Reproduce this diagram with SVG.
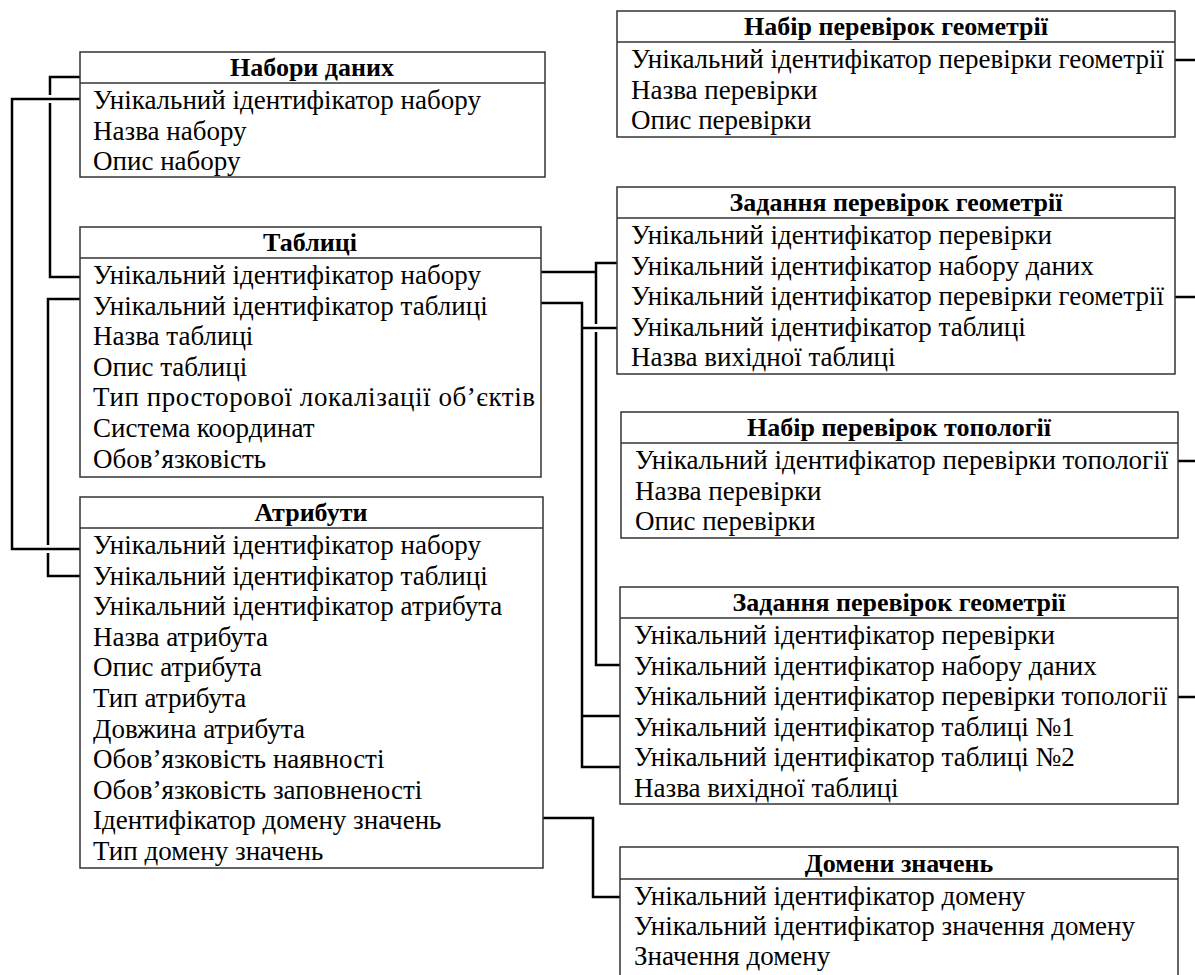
<svg xmlns="http://www.w3.org/2000/svg" width="1195" height="975" viewBox="0 0 1195 975">
<style>
.bg{fill:#fff}
.box{fill:#fff;stroke:#333;stroke-width:1.5}
.t{font-family:"Liberation Serif","Times New Roman",serif;font-size:27px;fill:#000}
.h{font-weight:bold;text-anchor:middle;font-size:26px}
.c{fill:none;stroke:#000;stroke-width:2.5}
</style>
<rect class="bg" x="0" y="0" width="1195" height="975"/>
<g id="connectors">
<path class="c" d="M80,77 H50 V95 M50,103 V277 H80"/>
<path class="c" d="M80,99 H12 V549 H80"/>
<path class="c" d="M80,299 H48 V545 M48,553 V576 H80"/>
<path class="c" d="M541,272 H596 M617,263 H596 V324 M596,332 V665 H620"/>
<path class="c" d="M541,303 H582 V767 H620 M582,328 H617 M582,716 H620"/>
<path class="c" d="M543,818 H593 V897 H620"/>
<path class="c" d="M1175,60 H1195 M1175,297 H1195 M1178,461 H1195 M1178,697 H1195"/>
</g>
<g id="nabory">
<rect class="box" x="80" y="52" width="465" height="125"/>
<line class="box" x1="80" y1="83" x2="545" y2="83"/>
<text class="t h" x="312" y="76">Набори даних</text>
<text class="t" x="93" y="109">Унікальний ідентифікатор набору</text>
<text class="t" x="93" y="140">Назва набору</text>
<text class="t" x="93" y="170">Опис набору</text>
</g>
<g id="tablytsi">
<rect class="box" x="80" y="227" width="461" height="250"/>
<line class="box" x1="80" y1="258" x2="541" y2="258"/>
<text class="t h" x="310" y="251">Таблиці</text>
<text class="t" x="93" y="284">Унікальний ідентифікатор набору</text>
<text class="t" x="93" y="315">Унікальний ідентифікатор таблиці</text>
<text class="t" x="93" y="345">Назва таблиці</text>
<text class="t" x="93" y="376">Опис таблиці</text>
<text class="t" x="93" y="406" textLength="442" lengthAdjust="spacing">Тип просторової локалізації об’єктів</text>
<text class="t" x="93" y="437">Система координат</text>
<text class="t" x="93" y="468">Обов’язковість</text>
</g>
<g id="atrybuty">
<rect class="box" x="80" y="497" width="463" height="371"/>
<line class="box" x1="80" y1="528" x2="543" y2="528"/>
<text class="t h" x="311" y="521">Атрибути</text>
<text class="t" x="93" y="554">Унікальний ідентифікатор набору</text>
<text class="t" x="93" y="585">Унікальний ідентифікатор таблиці</text>
<text class="t" x="93" y="615">Унікальний ідентифікатор атрибута</text>
<text class="t" x="93" y="646">Назва атрибута</text>
<text class="t" x="93" y="676">Опис атрибута</text>
<text class="t" x="93" y="707">Тип атрибута</text>
<text class="t" x="93" y="738">Довжина атрибута</text>
<text class="t" x="93" y="768">Обов’язковість наявності</text>
<text class="t" x="93" y="799">Обов’язковість заповненості</text>
<text class="t" x="93" y="829">Ідентифікатор домену значень</text>
<text class="t" x="93" y="860">Тип домену значень</text>
</g>
<g id="nabir-geom">
<rect class="box" x="617" y="11" width="558" height="126"/>
<line class="box" x1="617" y1="42" x2="1175" y2="42"/>
<text class="t h" x="896" y="35">Набір перевірок геометрії</text>
<text class="t" x="631" y="68">Унікальний ідентифікатор перевірки геометрії</text>
<text class="t" x="631" y="99">Назва перевірки</text>
<text class="t" x="631" y="129">Опис перевірки</text>
</g>
<g id="zavd-geom">
<rect class="box" x="617" y="187" width="558" height="187"/>
<line class="box" x1="617" y1="218" x2="1175" y2="218"/>
<text class="t h" x="896" y="211">Задання перевірок геометрії</text>
<text class="t" x="631" y="244">Унікальний ідентифікатор перевірки</text>
<text class="t" x="631" y="275">Унікальний ідентифікатор набору даних</text>
<text class="t" x="631" y="305">Унікальний ідентифікатор перевірки геометрії</text>
<text class="t" x="631" y="336">Унікальний ідентифікатор таблиці</text>
<text class="t" x="631" y="366">Назва вихідної таблиці</text>
</g>
<g id="nabir-topo">
<rect class="box" x="621" y="412" width="557" height="126"/>
<line class="box" x1="621" y1="443" x2="1178" y2="443"/>
<text class="t h" x="899" y="436">Набір перевірок топології</text>
<text class="t" x="635" y="469">Унікальний ідентифікатор перевірки топології</text>
<text class="t" x="635" y="500">Назва перевірки</text>
<text class="t" x="635" y="530">Опис перевірки</text>
</g>
<g id="zavd-topo">
<rect class="box" x="620" y="587" width="558" height="217"/>
<line class="box" x1="620" y1="618" x2="1178" y2="618"/>
<text class="t h" x="899" y="611">Задання перевірок геометрії</text>
<text class="t" x="634" y="644">Унікальний ідентифікатор перевірки</text>
<text class="t" x="634" y="675">Унікальний ідентифікатор набору даних</text>
<text class="t" x="634" y="705">Унікальний ідентифікатор перевірки топології</text>
<text class="t" x="634" y="736">Унікальний ідентифікатор таблиці №1</text>
<text class="t" x="634" y="766">Унікальний ідентифікатор таблиці №2</text>
<text class="t" x="634" y="797">Назва вихідної таблиці</text>
</g>
<g id="domeny">
<rect class="box" x="620" y="847" width="558" height="150"/>
<line class="box" x1="620" y1="879" x2="1178" y2="879"/>
<text class="t h" x="899" y="872">Домени значень</text>
<text class="t" x="634" y="905">Унікальний ідентифікатор домену</text>
<text class="t" x="634" y="935">Унікальний ідентифікатор значення домену</text>
<text class="t" x="634" y="965">Значення домену</text>
</g>
</svg>
